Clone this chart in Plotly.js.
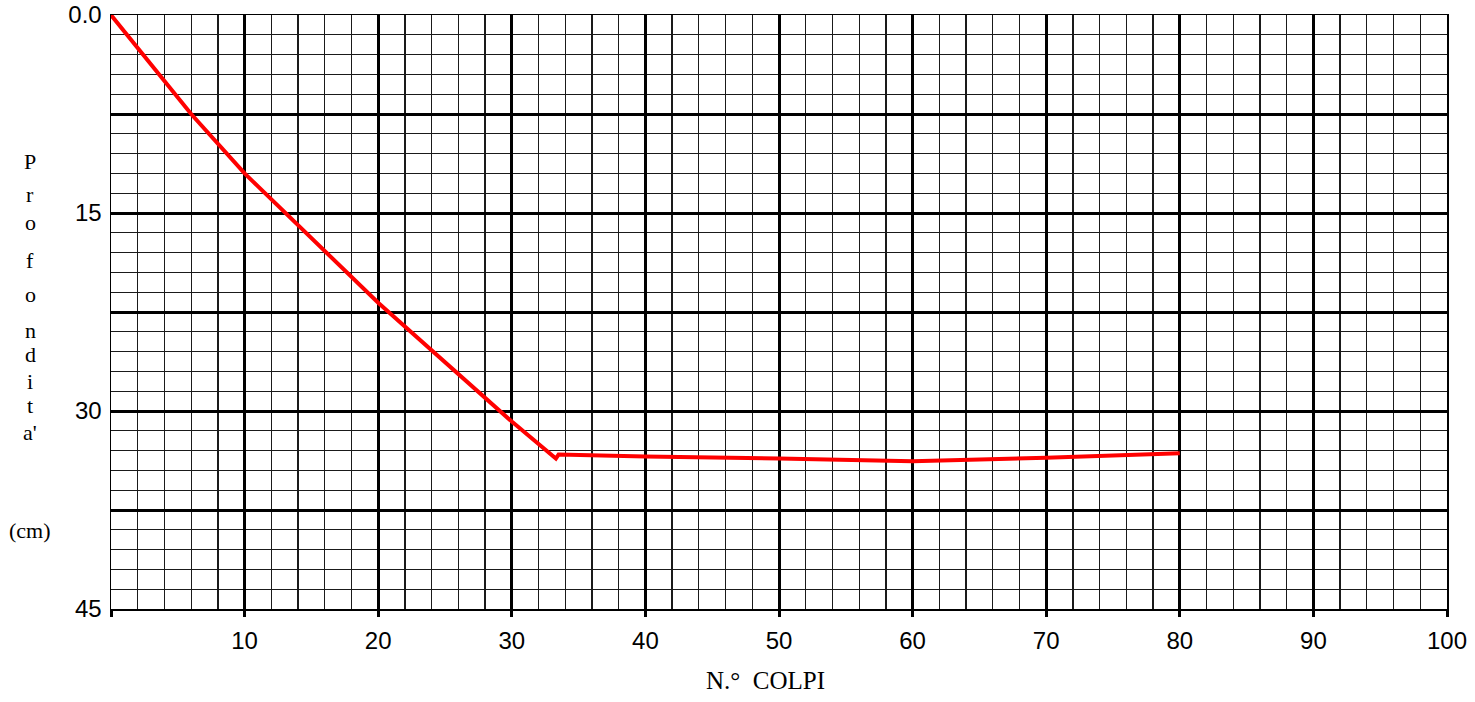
<!DOCTYPE html>
<html>
<head>
<meta charset="utf-8">
<script src="https://cdn.plot.ly/plotly-3.0.1.min.js"></script>
<style>html,body{margin:0;padding:0;background:#fff;}#chart{width:1475px;height:702px;}</style>
</head>
<body>
<div id="chart"></div>
<script>
// Data
var colpi = [0, 6, 10, 20, 30, 33.3, 33.5, 40, 50, 60, 70, 80];
var profondita = [0, 7.5, 12, 21.8, 30.8, 33.6, 33.3, 33.45, 33.6, 33.8, 33.55, 33.2];
var xTickVals = [0, 10, 20, 30, 40, 50, 60, 70, 80, 90, 100];
var xTickText = ['', '10', '20', '30', '40', '50', '60', '70', '80', '90', '100'];
var yTickVals = [0, 7.5, 15, 22.5, 30, 37.5, 45];
var yTickText = ['0.0', '', '15', '', '30', '', '45'];
var yTitleLetters = ['P', 'r', 'o', 'f', 'o', 'n', 'd', 'i', 't', "a'", '(cm)'];
var xTitle = 'N.\u00b0  COLPI';

var W = 1475, H = 702;
var M = {l: 111, r: 28, t: 15, b: 93};
var plotH = H - M.t - M.b;
function py(p) { return 1 - (p - M.t) / plotH; }
function px(p) { return (p - M.l) / (W - M.l - M.r); }

var letterY = [161, 194, 222, 260, 294, 330, 355, 381, 406, 432, 530];
var annotations = yTitleLetters.map(function (t, i) {
  return {
    text: t, xref: 'paper', yref: 'paper', x: px(30), y: py(letterY[i]),
    xanchor: 'center', yanchor: 'middle', showarrow: false, borderpad: 0,
    font: {family: 'Liberation Serif, Times New Roman, serif', size: 22, color: '#000'}
  };
});
annotations.push({
  text: xTitle, xref: 'paper', yref: 'paper', x: px(765), y: py(680),
  xanchor: 'center', yanchor: 'middle', showarrow: false,
  font: {family: 'Liberation Serif, Times New Roman, serif', size: 25, color: '#000'}
});

var trace = {
  x: colpi, y: profondita, type: 'scatter', mode: 'lines',
  line: {color: '#ff0000', width: 4}, hoverinfo: 'skip'
};

var layout = {
  width: W, height: H,
  margin: M,
  paper_bgcolor: '#fff', plot_bgcolor: '#fff',
  showlegend: false,
  font: {family: 'Liberation Sans, Arial, sans-serif', size: 24, color: '#000'},
  xaxis: {
    range: [0, 100], tickmode: 'array', tickvals: xTickVals, ticktext: xTickText,
    showgrid: true, gridcolor: '#000', gridwidth: 3,
    minor: {dtick: 2, showgrid: true, gridcolor: '#1a1a1a', gridwidth: 1.3},
    ticks: 'outside', ticklen: 6, tickwidth: 3, tickcolor: '#000',
    ticklabelstandoff: 4,
    showline: true, mirror: true, linecolor: '#000', linewidth: 1.5,
    zeroline: false, fixedrange: true,
    tickfont: {family: 'Liberation Sans, Arial, sans-serif', size: 24, color: '#000'}
  },
  yaxis: {
    range: [45, 0], tickmode: 'array', tickvals: yTickVals, ticktext: yTickText,
    showgrid: true, gridcolor: '#000', gridwidth: 3,
    minor: {dtick: 1.5, showgrid: true, gridcolor: '#1a1a1a', gridwidth: 1.3},
    ticks: '', ticklabelstandoff: 3,
    showline: true, mirror: true, linecolor: '#000', linewidth: 1.5,
    zeroline: false, fixedrange: true,
    tickfont: {family: 'Liberation Sans, Arial, sans-serif', size: 24, color: '#000'}
  },
  annotations: annotations
};

Plotly.newPlot('chart', [trace], layout, {staticPlot: true, displayModeBar: false});
</script>
</body>
</html>
